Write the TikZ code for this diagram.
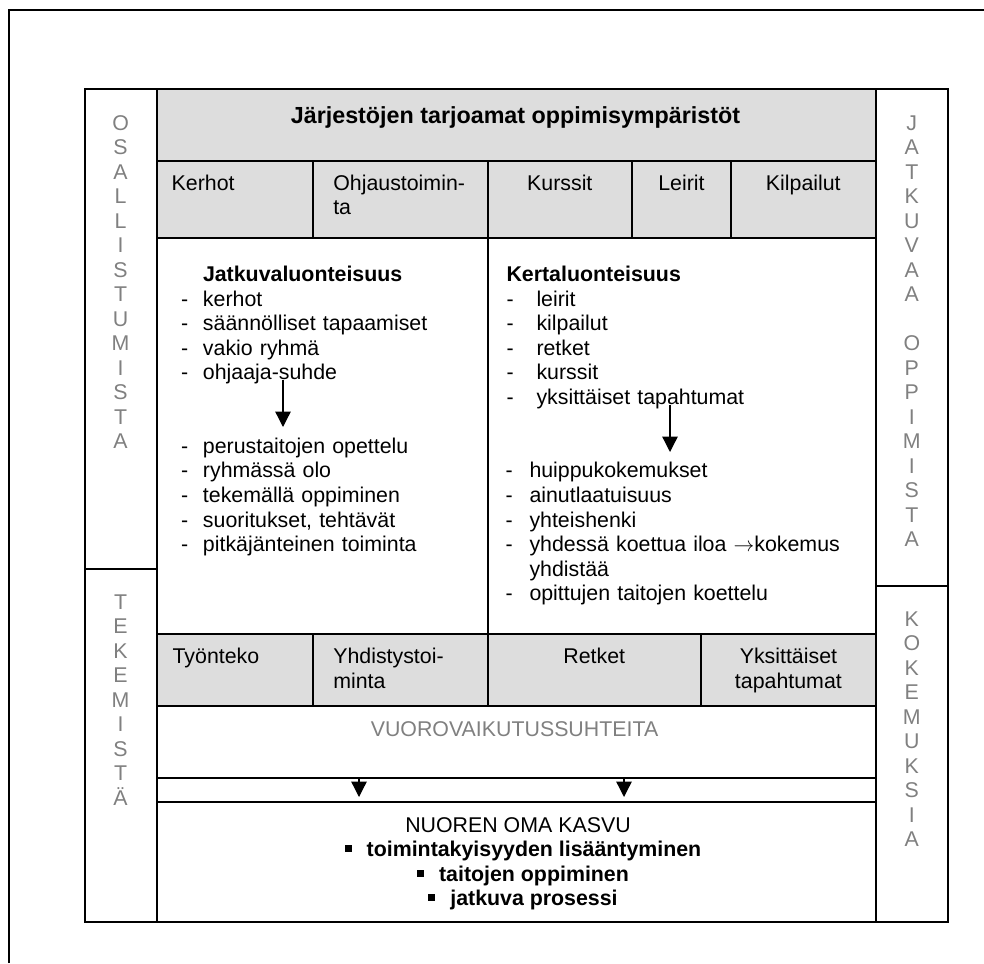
\documentclass[tikz,border=0pt]{standalone}
\usepackage{fontspec}
\setmainfont{Liberation Sans}
\usetikzlibrary{arrows.meta}
\definecolor{cellgray}{RGB}{221,221,221}
\definecolor{sidegray}{RGB}{128,128,128}
\newcommand\sqbul{\rule[4.5pt]{7pt}{7pt}\hspace{15pt}}
\newcommand\dashitem[1]{\makebox[#1][l]{-}}
\newcommand\blankitem[1]{\makebox[#1][l]{}}
\begin{document}
\begin{tikzpicture}[x=1pt,y=-1pt,
  frame/.style={line width=2pt},
  body/.style={font=\fontsize{21.35}{24.55}\selectfont, inner sep=0pt, outer sep=0pt},
  lbl/.style={body, anchor=base west},
  clbl/.style={body, anchor=base},
  lst/.style={body, anchor=base west, text width=360pt, align=left},
  side/.style={body, text=sidegray, anchor=base},
  arr/.style={line width=1.3pt, -{Triangle[width=15.5pt,length=15.5pt]}},
]
\useasboundingbox (0,0) rectangle (984,963);
% gray cells
\fill[cellgray] (156.7,89) rectangle (876,238.3);
\fill[cellgray] (156.7,634) rectangle (876,705.7);
% outer page frame
\draw[frame] (9,963) -- (9,10) -- (984,10);
% main frame
\draw[frame] (84.5,89) rectangle (947.5,921.7);
\draw[frame] (156.7,89) -- (156.7,921.7);
\draw[frame] (876,89) -- (876,921.7);
\draw[frame] (84.5,569) -- (156.7,569);
\draw[frame] (876,586) -- (947.5,586);
\foreach \yy in {160.7,238.3,634,705.7,777.7,802}
  \draw[frame] (156.7,\yy) -- (876,\yy);
\foreach \xx in {312.7,487.5,632.3,730.7}
  \draw[frame] (\xx,160.7) -- (\xx,238.3);
\draw[frame] (487.5,238.3) -- (487.5,634);
\foreach \xx in {312.7,488.3,700.7}
  \draw[frame] (\xx,634) -- (\xx,705.7);

% title
\node[clbl, font=\bfseries\fontsize{23.3}{26.8}\selectfont] (title) at (515.5,123.4) {Järjestöjen tarjoamat oppimisympäristöt};

% top sub row
\node[lbl] (kerhot) at (171.7,190.3) {Kerhot};
\node[lbl, text width=200pt, align=left] (ohjaus) at (333.3,190.3) {Ohjaustoimin-\\ta};
\node[clbl] (kurssit) at (559.8,190.3) {Kurssit};
\node[clbl] (leirit) at (681.5,190.3) {Leirit};
\node[clbl] (kilp) at (803.3,190.3) {Kilpailut};

% middle left
\node[lst] (jatk) at (181,281.5) {\blankitem{22pt}\textbf{Jatkuvaluonteisuus}\\
\dashitem{22pt}kerhot\\
\dashitem{22pt}säännölliset tapaamiset\\
\dashitem{22pt}vakio ryhmä\\
\dashitem{22pt}ohjaaja-suhde};
\node[lst] (jatk2) at (181,453.4) {\dashitem{22pt}perustaitojen opettelu\\
\dashitem{22pt}ryhmässä olo\\
\dashitem{22pt}tekemällä oppiminen\\
\dashitem{22pt}suoritukset, tehtävät\\
\dashitem{22pt}pitkäjänteinen toiminta};
\coordinate (a1s) at (283,380);
\coordinate (a1e) at (283,427);
\draw[arr] (a1s) -- (a1e);

% middle right
\node[lst] (kert) at (506.5,281.5) {\textbf{Kertaluonteisuus}\\
\dashitem{30pt}leirit\\
\dashitem{30pt}kilpailut\\
\dashitem{30pt}retket\\
\dashitem{30pt}kurssit\\
\dashitem{30pt}yksittäiset tapahtumat};
\node[lst] (kert2) at (505.5,477.9) {\dashitem{24pt}huippukokemukset\\
\dashitem{24pt}ainutlaatuisuus\\
\dashitem{24pt}yhteishenki\\
\dashitem{24pt}yhdessä koettua iloa $\rightarrow$kokemus\\
\blankitem{24pt}yhdistää\\
\dashitem{24pt}opittujen taitojen koettelu};
\coordinate (a2s) at (670,405);
\coordinate (a2e) at (670,452);
\draw[arr] (a2s) -- (a2e);

% bottom gray row
\node[lbl] (tyon) at (172.6,663.5) {Työnteko};
\node[lbl, text width=200pt, align=left] (yhd) at (333.3,663.5) {Yhdistystoi-\\minta};
\node[clbl] (retket) at (594.3,663.5) {Retket};
\node[clbl, text width=170pt, align=center] (yks) at (788.4,663.5) {Yksittäiset\\tapahtumat};

% interaction row
\node[clbl, text=sidegray] (vuoro) at (514.5,736.7) {VUOROVAIKUTUSSUHTEITA};
\coordinate (b1s) at (359,777.7);
\coordinate (b1e) at (359,797);
\coordinate (b2s) at (624,777.7);
\coordinate (b2e) at (624,797);
\draw[arr] (b1s) -- (b1e);
\draw[arr] (b2s) -- (b2e);

% bottom
\node[clbl] (nuoren) at (518,832) {NUOREN OMA KASVU};
\node[clbl, font=\bfseries\fontsize{21.35}{24.55}\selectfont] (bl1) at (523,856.6) {\sqbul toimintakyisyyden lisääntyminen};
\node[clbl, font=\bfseries\fontsize{21.35}{24.55}\selectfont] (bl2) at (523,881.2) {\sqbul taitojen oppiminen};
\node[clbl, font=\bfseries\fontsize{21.35}{24.55}\selectfont] (bl3) at (523,905.8) {\sqbul jatkuva prosessi};

% side columns
\foreach \c [count=\i from 0] in {O,S,A,L,L,I,S,T,U,M,I,S,T,A}
  \node[side] (osa\i) at (120.6,{130+24.5*\i}) {\c};
\foreach \c [count=\i from 0] in {T,E,K,E,M,I,S,T,Ä}
  \node[side] (tek\i) at (120.6,{609.3+24.5*\i}) {\c};
\foreach \c [count=\i from 0] in {J,A,T,K,U,V,A,A}
  \node[side] (jat\i) at (911.8,{130+24.5*\i}) {\c};
\foreach \c [count=\i from 9] in {O,P,P,I,M,I,S,T,A}
  \node[side] (opp\i) at (911.8,{130+24.5*\i}) {\c};
\foreach \c [count=\i from 0] in {K,O,K,E,M,U,K,S,I,A}
  \node[side] (kok\i) at (911.8,{626+24.5*\i}) {\c};
\end{tikzpicture}
\end{document}
